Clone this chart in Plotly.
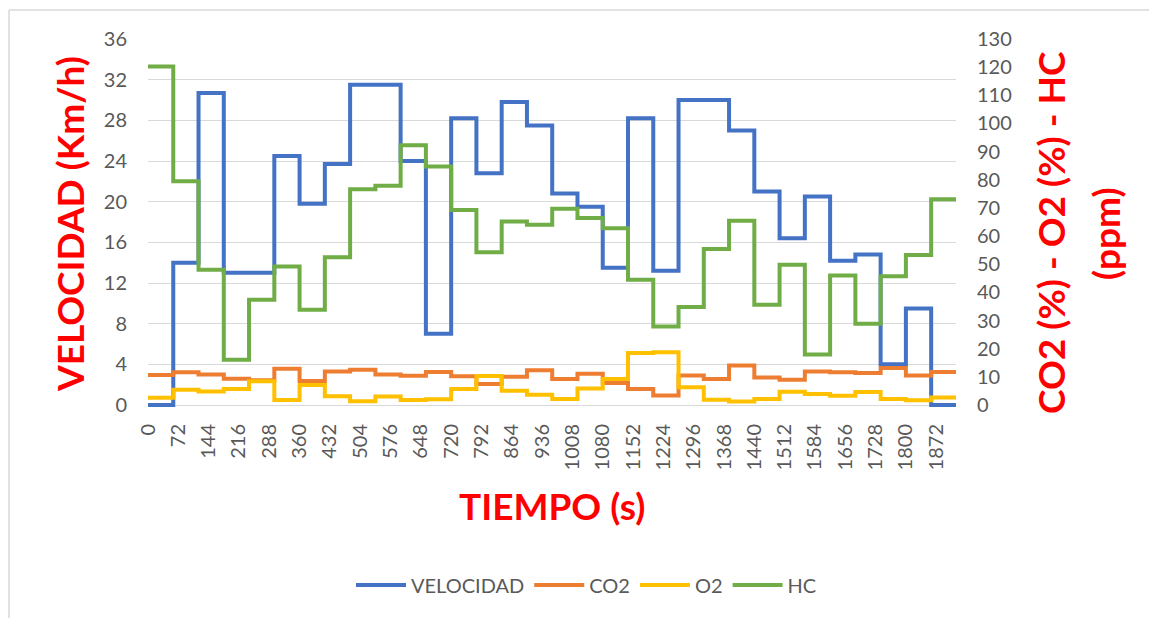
import plotly.graph_objects as go

# --- data -------------------------------------------------------------
# start time (s) of each constant-speed segment of the test
TIME_S = [0, 60, 120, 180, 240, 300, 360, 420, 480, 540, 600, 660, 720, 780,
          840, 900, 960, 1020, 1080, 1140, 1200, 1260, 1320, 1380, 1440, 1500,
          1560, 1620, 1680, 1740, 1800, 1860]
END_S = 1919

X_TICKS = [0, 72, 144, 216, 288, 360, 432, 504, 576, 648, 720, 792, 864, 936,
           1008, 1080, 1152, 1224, 1296, 1368, 1440, 1512, 1584, 1656, 1728,
           1800, 1872]

VELOCIDAD = [0, 14.0, 30.7, 13.0, 13.0, 24.5, 19.8, 23.7, 31.5, 31.5, 24.0, 7.0,
             28.2, 22.8, 29.8, 27.5, 20.8, 19.5, 13.5, 28.2, 13.2, 30.0, 30.0,
             27.0, 21.0, 16.4, 20.5, 14.2, 14.8, 4.0, 9.5, 0]
CO2 = [10.7, 11.6, 10.8, 9.3, 8.8, 12.9, 8.5, 11.9, 12.5, 10.8, 10.4, 11.7,
       10.2, 7.5, 10.0, 12.3, 9.2, 11.1, 7.8, 5.7, 3.4, 10.5, 9.2, 14.0, 9.8,
       9.0, 11.9, 11.6, 11.4, 13.1, 10.5, 11.7]
O2 = [2.6, 5.4, 4.8, 5.7, 8.4, 1.8, 7.1, 3.1, 1.3, 3.0, 1.8, 2.0, 5.7, 10.3,
      5.1, 3.6, 2.1, 5.9, 9.2, 18.5, 18.7, 6.3, 1.9, 1.2, 2.1, 4.7, 3.9, 3.3,
      4.6, 2.1, 1.7, 2.7]
HC = [120.2, 79.5, 48.0, 16.1, 37.4, 49.2, 33.8, 52.5, 76.6, 77.9, 92.3, 84.7,
      69.3, 54.3, 65.2, 64.0, 69.7, 66.4, 62.8, 44.5, 27.9, 34.8, 55.4, 65.4,
      35.6, 49.8, 17.9, 46.0, 28.9, 45.7, 53.3, 73.1]

LEFT_TICKS = [0, 4, 8, 12, 16, 20, 24, 28, 32, 36]
RIGHT_TICKS = [0, 10, 20, 30, 40, 50, 60, 70, 80, 90, 100, 110, 120, 130]

COLORS = {"VELOCIDAD": "#4472C4", "CO2": "#ED7D31", "O2": "#FFC000", "HC": "#70AD47"}

FONT = "Lato"
GRAY = "#595959"
RED = "#FF0000"


def stepped(vals):
    return TIME_S + [END_S], list(vals) + [vals[-1]]


fig = go.Figure()
for name, vals, axis in [("VELOCIDAD", VELOCIDAD, "y"), ("CO2", CO2, "y2"),
                         ("O2", O2, "y2"), ("HC", HC, "y2")]:
    xs, ys = stepped(vals)
    fig.add_trace(go.Scatter(x=xs, y=ys, name=name, mode="lines", yaxis=axis,
                             line=dict(color=COLORS[name], width=4, shape="hv")))

tickfont = dict(family=FONT, size=20, color=GRAY)
titlefont = dict(family=FONT, size=37, color=RED, weight="bold")
border = dict(color="#D9D9D9", width=1.5)

fig.update_layout(
    width=1149, height=618,
    margin=dict(l=148, r=193, t=39, b=211, autoexpand=False),
    paper_bgcolor="white", plot_bgcolor="white",
    font=dict(family=FONT, color=GRAY),
    showlegend=True,
    legend=dict(orientation="h", x=0.5427, y=-0.4837, xanchor="center",
                yanchor="middle", font=dict(family=FONT, size=20, color=GRAY),
                itemwidth=50, traceorder="normal"),
    xaxis=dict(range=[0, END_S], tickmode="array", tickvals=X_TICKS,
               ticktext=[str(t) for t in X_TICKS], tickangle=-90,
               showgrid=False, zeroline=False, showline=False, ticks="",
               ticklabelstandoff=12, tickfont=tickfont),
    yaxis=dict(range=[-0.197, 36], tickmode="array", tickvals=LEFT_TICKS,
               showgrid=True, gridcolor="#D9D9D9", gridwidth=1,
               zeroline=True, zerolinecolor="#D9D9D9", zerolinewidth=1,
               showline=False, ticks="", ticklabelstandoff=20, tickfont=tickfont),
    yaxis2=dict(range=[-0.71, 130], tickmode="array", tickvals=RIGHT_TICKS,
                overlaying="y", side="right", showgrid=False, zeroline=False,
                showline=False, ticks="", ticklabelstandoff=20, tickfont=tickfont),
    shapes=[
        dict(type="line", xref="paper", yref="paper", x0=-0.172, x1=-0.172,
             y0=-0.6, y1=1.0788, line=border, layer="below"),
        dict(type="line", xref="paper", yref="paper", x0=-0.172, x1=1.25,
             y0=1.0788, y1=1.0788, line=border, layer="below"),
    ],
    annotations=[
        dict(text="VELOCIDAD (Km/h)", xref="paper", yref="paper", x=-0.0965,
             y=0.4973, xanchor="center", yanchor="middle", textangle=-90,
             showarrow=False, font=titlefont),
        dict(text="TIEMPO (s)", xref="paper", yref="paper", x=0.4994,
             y=-0.2677, xanchor="center", yanchor="middle",
             showarrow=False, font=titlefont),
        dict(text="CO2 (%) - O2 (%) - HC", xref="paper", yref="paper", x=1.1163,
             y=0.4755, xanchor="center", yanchor="middle", textangle=-90,
             showarrow=False, font=titlefont),
        dict(text="(ppm)", xref="paper", yref="paper", x=1.1844,
             y=0.4728, xanchor="center", yanchor="middle", textangle=-90,
             showarrow=False, font=titlefont),
    ],
)

fig.write_html(
    "out.html",
    config={"displayModeBar": False},
    post_script="document.body.style.margin='0';document.body.style.overflow='hidden';",
)
